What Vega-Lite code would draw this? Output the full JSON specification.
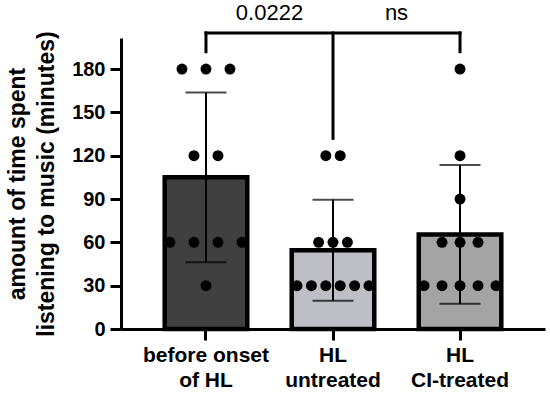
{
  "$schema": "https://vega.github.io/schema/vega-lite/v6.json",
  "width": 424,
  "height": 291,
  "autosize": {"type": "none"},
  "padding": {"left": 121, "top": 38, "right": 5, "bottom": 67},
  "background": "white",
  "config": {
    "view": {"stroke": null},
    "font": "Liberation Sans",
    "axis": {
      "domainColor": "black",
      "domainWidth": 3,
      "tickColor": "black",
      "tickWidth": 3,
      "tickSize": 11,
      "grid": false,
      "labelFont": "Liberation Sans",
      "labelFontWeight": "bold",
      "labelFontSize": 20,
      "labelColor": "black",
      "titleFont": "Liberation Sans",
      "titleFontWeight": "bold",
      "titleColor": "black"
    }
  },
  "datasets": {
    "obs": [
      {"group": "before onset of HL", "minutes": 180},
      {"group": "before onset of HL", "minutes": 180},
      {"group": "before onset of HL", "minutes": 180},
      {"group": "before onset of HL", "minutes": 120},
      {"group": "before onset of HL", "minutes": 120},
      {"group": "before onset of HL", "minutes": 60},
      {"group": "before onset of HL", "minutes": 60},
      {"group": "before onset of HL", "minutes": 60},
      {"group": "before onset of HL", "minutes": 60},
      {"group": "before onset of HL", "minutes": 30},
      {"group": "HL untreated", "minutes": 120},
      {"group": "HL untreated", "minutes": 120},
      {"group": "HL untreated", "minutes": 60},
      {"group": "HL untreated", "minutes": 60},
      {"group": "HL untreated", "minutes": 60},
      {"group": "HL untreated", "minutes": 30},
      {"group": "HL untreated", "minutes": 30},
      {"group": "HL untreated", "minutes": 30},
      {"group": "HL untreated", "minutes": 30},
      {"group": "HL untreated", "minutes": 30},
      {"group": "HL untreated", "minutes": 30},
      {"group": "HL CI-treated", "minutes": 180},
      {"group": "HL CI-treated", "minutes": 120},
      {"group": "HL CI-treated", "minutes": 90},
      {"group": "HL CI-treated", "minutes": 60},
      {"group": "HL CI-treated", "minutes": 60},
      {"group": "HL CI-treated", "minutes": 60},
      {"group": "HL CI-treated", "minutes": 30},
      {"group": "HL CI-treated", "minutes": 30},
      {"group": "HL CI-treated", "minutes": 30},
      {"group": "HL CI-treated", "minutes": 30},
      {"group": "HL CI-treated", "minutes": 30}
    ],
    "bracket": [
      {"from": "before onset of HL", "to": "HL CI-treated", "top": 205, "bottom": 205},
      {"from": "before onset of HL", "to": "before onset of HL", "top": 205, "bottom": 192},
      {"from": "HL CI-treated", "to": "HL CI-treated", "top": 205, "bottom": 192},
      {"from": "HL untreated", "to": "HL untreated", "top": 205, "bottom": 132}
    ],
    "sig": [
      {"group": "before onset of HL", "label": "0.0222", "level": 219},
      {"group": "HL untreated", "label": "ns", "level": 219}
    ]
  },
  "encoding": {
    "x": {
      "field": "group",
      "type": "nominal",
      "scale": {
        "domain": ["before onset of HL", "HL untreated", "HL CI-treated"],
        "paddingInner": 0.35,
        "paddingOuter": 0.344
      },
      "axis": {
        "title": null,
        "labelAngle": 0,
        "labelLineHeight": 25,
        "labelPadding": 4,
        "labelFontSize": 21,
        "labelExpr": "datum.value == 'before onset of HL' ? ['before onset', 'of HL'] : split(datum.value, ' ')"
      }
    }
  },
  "layer": [
    {
      "data": {"name": "obs"},
      "mark": {"type": "bar", "stroke": "black", "strokeWidth": 4.5, "width": {"band": 1}},
      "encoding": {
        "y": {
          "aggregate": "mean",
          "field": "minutes",
          "type": "quantitative",
          "title": ["amount of time spent", "listening to music (minutes)"],
          "scale": {"domain": [0, 201.5], "nice": false, "zero": true},
          "axis": {
            "values": [0, 30, 60, 90, 120, 150, 180],
            "labelPadding": 5,
            "titleFontSize": 23,
            "titleLineHeight": 29,
            "titleX": -104,
            "titleBaseline": "middle"
          }
        },
        "fill": {
          "field": "group",
          "type": "nominal",
          "scale": {
            "domain": ["before onset of HL", "HL untreated", "HL CI-treated"],
            "range": ["#404040", "#bebec5", "#a4a4a4"]
          },
          "legend": null
        }
      }
    },
    {
      "data": {"name": "obs"},
      "mark": {
        "type": "errorbar",
        "extent": "stdev",
        "color": "black",
        "rule": {"strokeWidth": 2},
        "ticks": {"size": 41, "thickness": 2, "color": "black"}
      },
      "encoding": {
        "y": {"field": "minutes", "type": "quantitative", "title": ["amount of time spent", "listening to music (minutes)"]}
      }
    },
    {
      "data": {"name": "obs"},
      "transform": [
        {"window": [{"op": "row_number", "as": "rank"}], "groupby": ["group", "minutes"]},
        {"joinaggregate": [{"op": "count", "as": "cnt"}], "groupby": ["group", "minutes"]},
        {"joinaggregate": [{"op": "max", "field": "cnt", "as": "maxcnt"}], "groupby": ["group"]},
        {"calculate": "(datum.rank - 1 - (datum.cnt - 1) / 2) / (datum.maxcnt - 1)", "as": "off"}
      ],
      "mark": {"type": "circle", "color": "black", "opacity": 1, "size": 120, "xOffset": {"expr": "datum.off * 72"}},
      "encoding": {
        "y": {"field": "minutes", "type": "quantitative", "title": ["amount of time spent", "listening to music (minutes)"]}
      }
    },
    {
      "data": {"name": "bracket"},
      "mark": {"type": "rule", "color": "black", "strokeWidth": 3, "strokeCap": "square"},
      "encoding": {
        "x": {"field": "from", "type": "nominal", "title": null},
        "x2": {"field": "to"},
        "y": {"field": "top", "type": "quantitative", "title": ["amount of time spent", "listening to music (minutes)"]},
        "y2": {"field": "bottom"}
      }
    },
    {
      "data": {"name": "sig"},
      "mark": {"type": "text", "dx": 63.5, "fontSize": 22, "font": "Liberation Sans", "color": "black", "align": "center", "baseline": "middle"},
      "encoding": {
        "x": {"field": "group", "type": "nominal", "title": null},
        "y": {"field": "level", "type": "quantitative", "title": ["amount of time spent", "listening to music (minutes)"]},
        "text": {"field": "label"}
      }
    }
  ]
}
